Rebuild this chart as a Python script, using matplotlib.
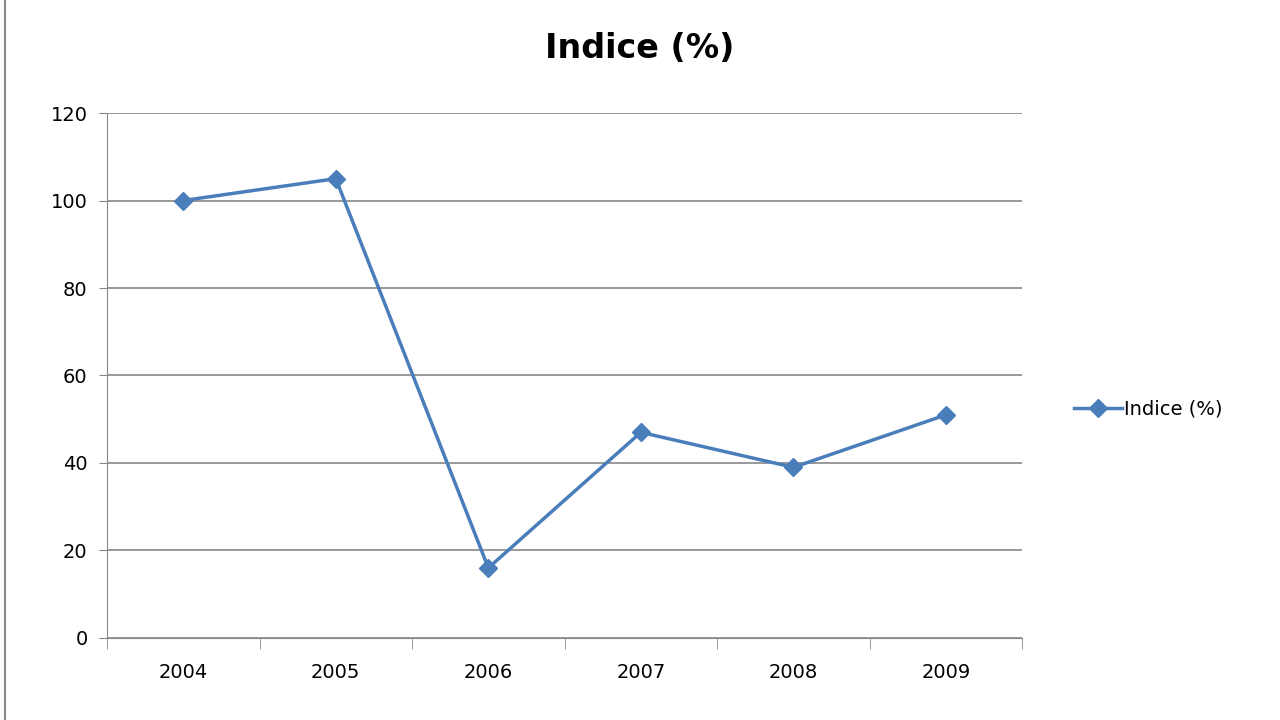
import matplotlib.pyplot as plt
import numpy as np

years = ["2004", "2005", "2006", "2007", "2008", "2009"]
indice = [100, 105, 16, 47, 39, 51]

fig = plt.figure(figsize=(12.8, 7.2), dpi=100)
ax = fig.add_axes([0.0836, 0.114, 0.715, 0.729])

x = np.arange(len(years))
ax.plot(x, indice, color="#4A7EBB", lw=2.5, marker="D", ms=9, label="Indice (%)")

ax.set_xlim(-0.5, len(years) - 0.5)
ax.set_ylim(0, 120)
ax.set_yticks(range(0, 121, 20))
ax.set_xticks(x)
ax.set_xticklabels(years)
ax.set_xticks(np.arange(-0.5, len(years), 1), minor=True)
ax.tick_params(axis="x", which="major", length=0, pad=18, labelsize=14)
ax.tick_params(axis="x", which="minor", length=8, color="#888888")
ax.tick_params(axis="y", length=6, color="#888888", labelsize=14, pad=8)
ax.yaxis.grid(True, color="#888888", lw=1.2)
ax.set_axisbelow(True)
for s in ["top", "right"]:
    ax.spines[s].set_visible(False)
for s in ["left", "bottom"]:
    ax.spines[s].set_color("#888888")

fig.text(0.5, 0.933, "Indice (%)", ha="center", va="center", fontsize=24, fontweight="bold")
fig.legend(loc="center left", bbox_to_anchor=(0.825, 0.432), frameon=False,
           fontsize=14, handlelength=2.5, handletextpad=0.1)
fig.add_artist(plt.Line2D([0.004, 0.004], [0, 1], color="#888888", lw=1.5))

fig.savefig("out.png", dpi=100)
